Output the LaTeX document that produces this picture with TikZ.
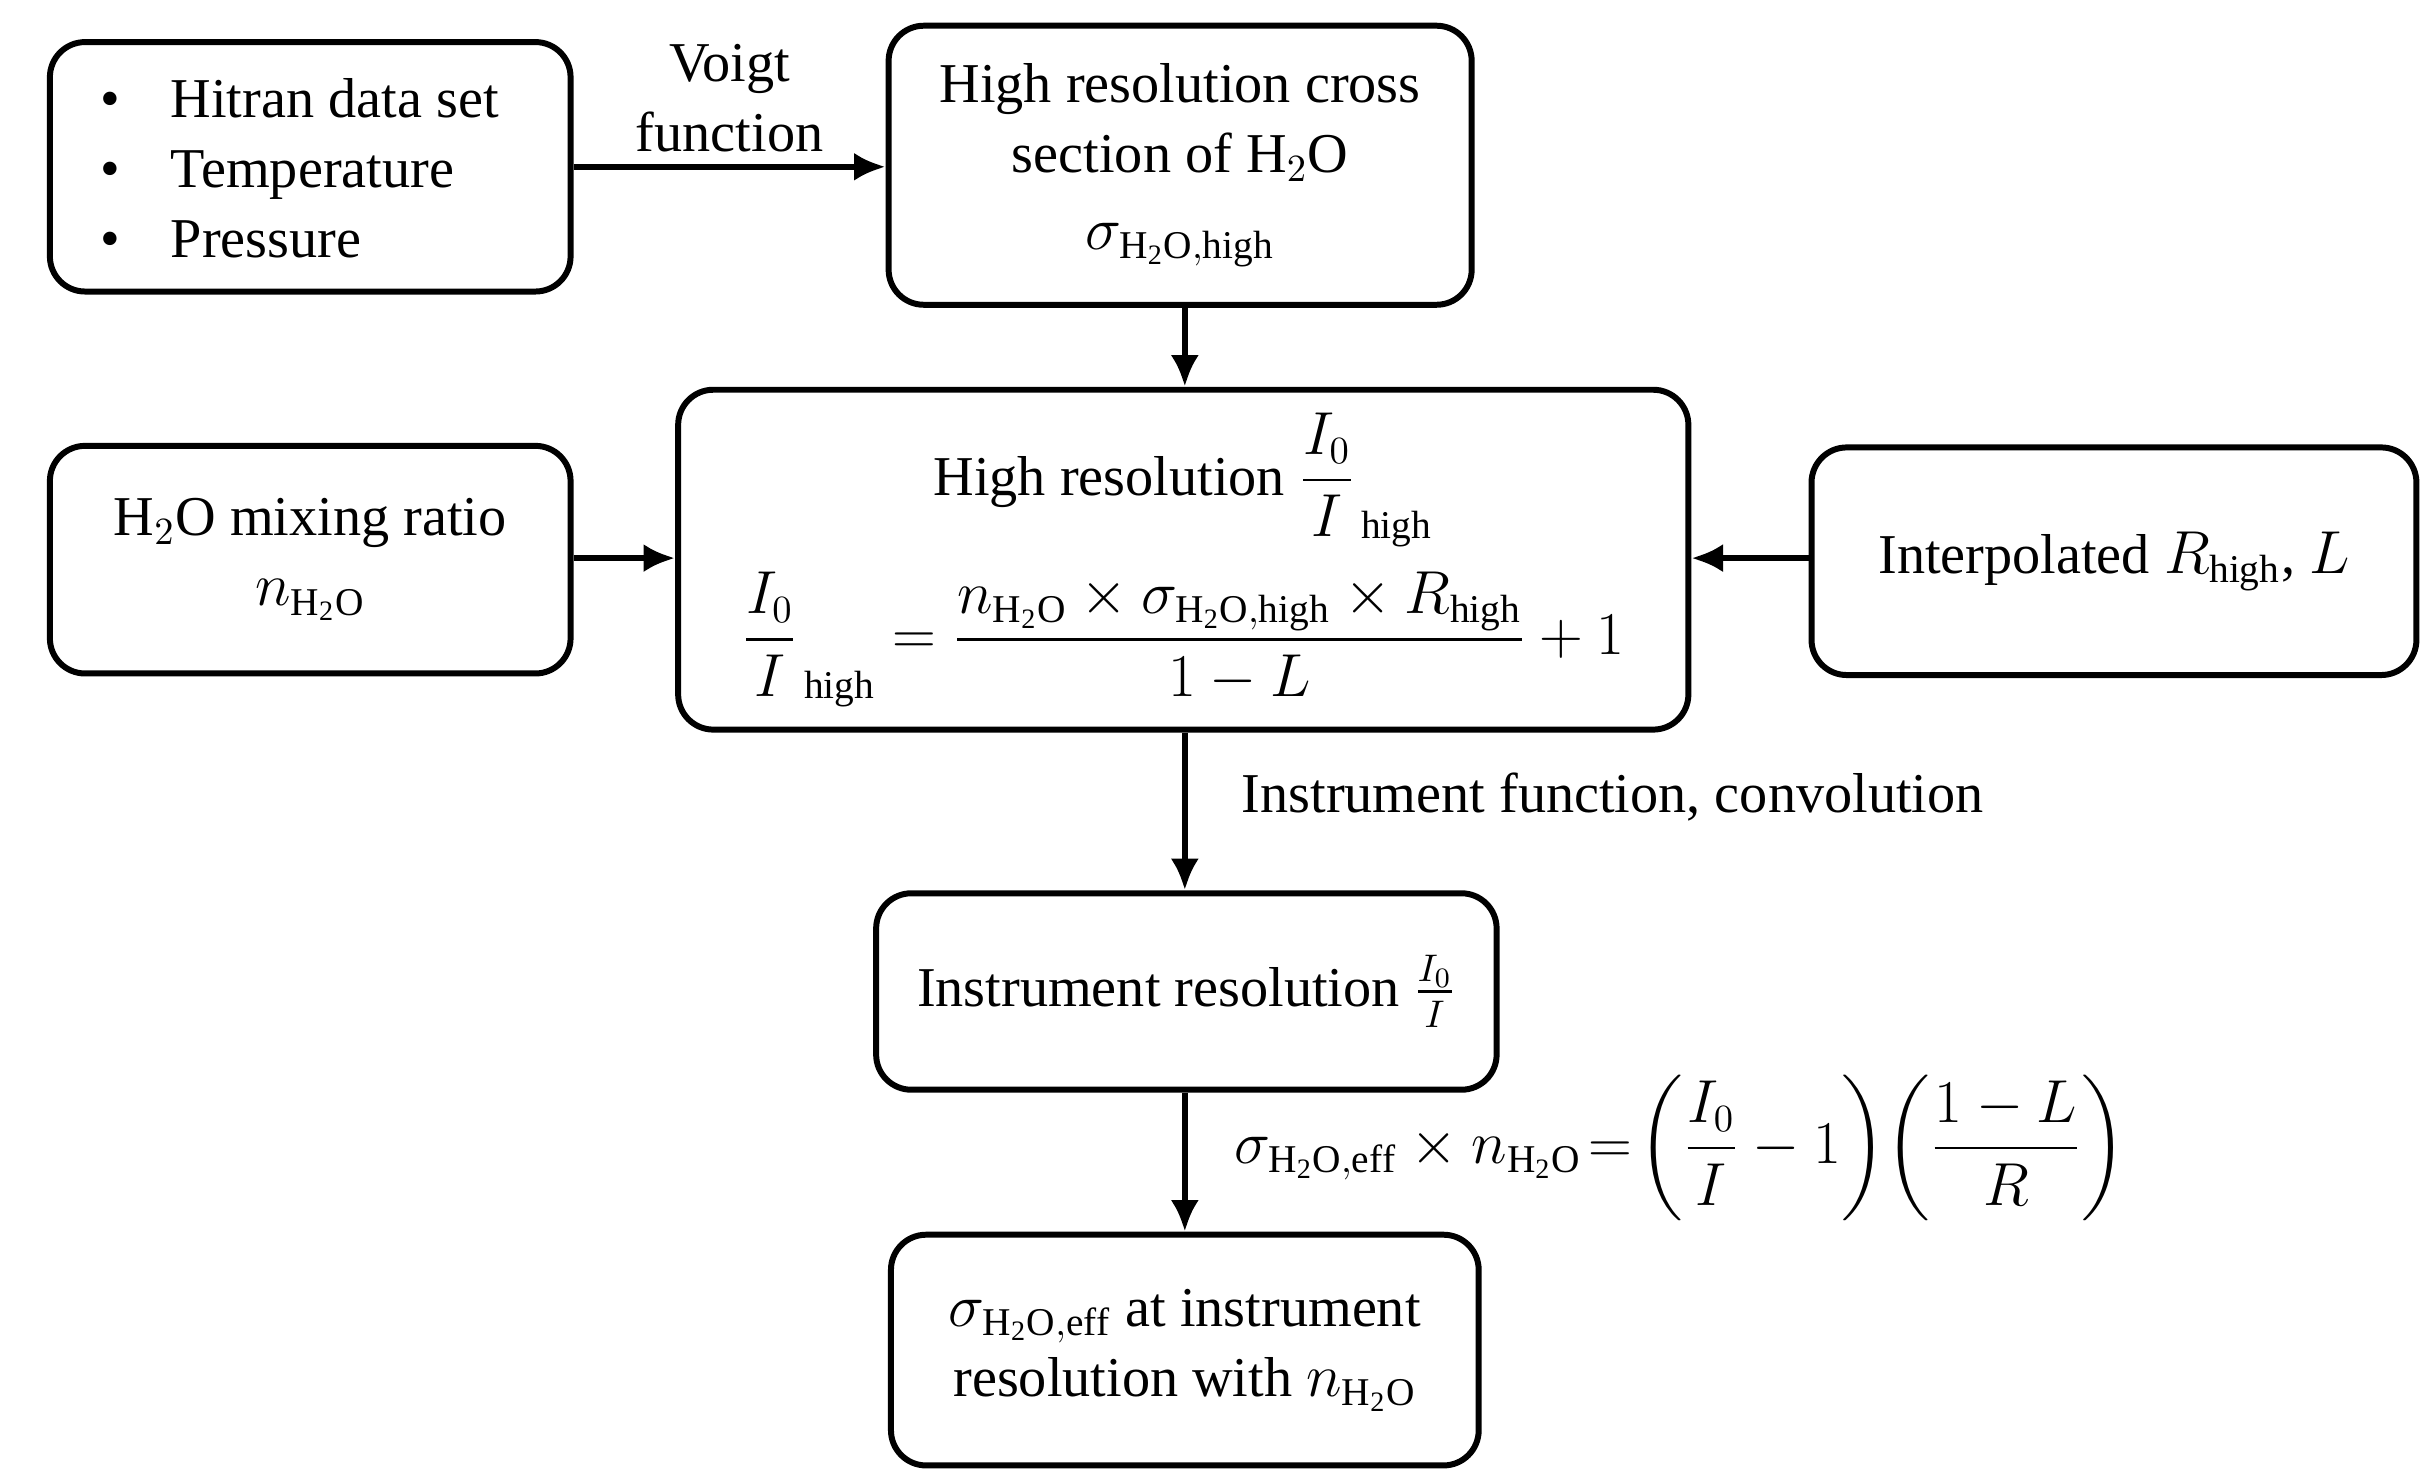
\documentclass[tikz,border=0pt]{standalone}
\usepackage{fontspec}
\setmainfont{Liberation Serif}
\usepackage{amsmath}
\usetikzlibrary{arrows.meta}
\newcommand{\wat}{\mathrm{H_2O}}
\begin{document}
\fontsize{16}{20}\selectfont
\begin{tikzpicture}[x=0.1559mm, y=-0.1559mm,
    box/.style={draw, line width=1.7pt, rounded corners=10pt, align=center, inner sep=0pt},
    link/.style={-{Latex[length=9pt,width=8pt]}, line width=1.7pt}]
  \useasboundingbox (0,0) rectangle (1560,951);
  \node [box, minimum width=334*0.1559mm, minimum height=160*0.1559mm] (src) at (199,107) {};
  \node [anchor=west, align=left] at (52,108) {\textbullet\hspace{0.9em}Hitran data set\\\textbullet\hspace{0.9em}Temperature\\\textbullet\hspace{0.9em}Pressure};
  \node [box, minimum width=374*0.1559mm, minimum height=179*0.1559mm] (xsec) at (757,106)
    {High resolution cross\\section of H$_2$O\\[2pt]$\sigma_{\wat,\mathrm{high}}$};
  \node [box, minimum width=648*0.1559mm, minimum height=218*0.1559mm] (model) at (759,359)
    {High resolution $\dfrac{I_0}{I}_{\,\mathrm{high}}$\\[6pt]
     $\dfrac{I_0}{I}_{\,\mathrm{high}}=\dfrac{n_{\wat}\times\sigma_{\wat,\mathrm{high}}\times R_{\mathrm{high}}}{1-L}+1$};
  \node [box, minimum width=334*0.1559mm, minimum height=146*0.1559mm] (mix) at (199,359)
    {H$_2$O mixing ratio\\$n_{\wat}$};
  \node [box, minimum width=388*0.1559mm, minimum height=146*0.1559mm] (refl) at (1356,360)
    {Interpolated $R_{\mathrm{high}}$, $L$};
  \node [box, minimum width=398*0.1559mm, minimum height=126*0.1559mm] (inst) at (761,636)
    {Instrument resolution $\frac{I_0}{I}$};
  \node [box, minimum width=377*0.1559mm, minimum height=148*0.1559mm] (eff) at (760,866)
    {$\sigma_{\wat,\mathrm{eff}}$ at instrument\\resolution with $n_{\wat}$};
  \draw [link] (src.east |- 0,107) -- node [above, align=center, yshift=-2pt] {Voigt\\function} (xsec.west |- 0,107);
  \draw [link] (xsec.south -| 760,0) -- (model.north -| 760,0);
  \draw [link] (mix.east |- 0,358) -- (model.west |- 0,358);
  \draw [link] (refl.west |- 0,358) -- (model.east |- 0,358);
  \draw [link] (model.south -| 760,0) -- node [right, xshift=10pt, yshift=4pt] {Instrument function, convolution} (inst.north -| 760,0);
  \draw [link] (inst.south -| 760,0) -- node [right, xshift=8pt, yshift=4pt]
    {$\sigma_{\wat,\mathrm{eff}}\times n_{\wat}\!=\!\left(\dfrac{I_0}{I}-1\right)\!\left(\dfrac{1-L}{R}\right)$} (eff.north -| 760,0);
\end{tikzpicture}
\end{document}
